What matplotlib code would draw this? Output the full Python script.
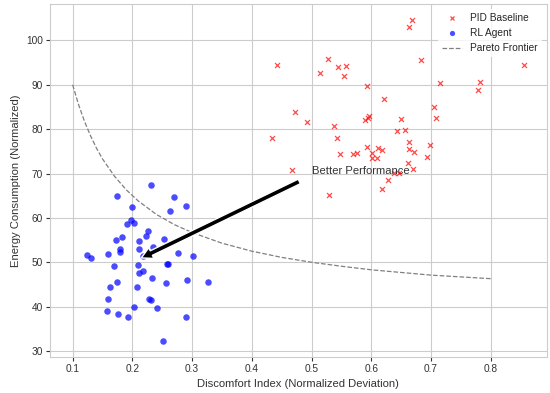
import numpy as np
import matplotlib
matplotlib.use('Agg')
import matplotlib.pyplot as plt
import seaborn as sns

# PID baseline results (discomfort, energy)
pid_discomfort = [0.669, 0.664, 0.527, 0.684, 0.544, 0.557, 0.856, 0.514, 0.554, 0.715,
                  0.782, 0.778, 0.593, 0.621, 0.705, 0.472, 0.708, 0.597, 0.595, 0.590,
                  0.492, 0.650, 0.537, 0.643, 0.656, 0.543, 0.663, 0.698, 0.593, 0.663,
                  0.612, 0.618, 0.548, 0.569, 0.576, 0.671, 0.602, 0.602, 0.610, 0.694,
                  0.661, 0.670, 0.467, 0.638, 0.646, 0.628, 0.618, 0.530, 0.443, 0.433]
pid_energy = [104.6, 103.0, 95.8, 95.6, 94.1, 94.2, 94.5, 92.6, 91.9, 90.4,
              90.7, 88.9, 89.8, 86.8, 85.0, 83.8, 82.4, 82.9, 82.6, 82.0,
              81.7, 82.3, 80.8, 79.5, 79.7, 78.1, 77.2, 76.4, 75.9, 75.6,
              75.7, 75.3, 74.5, 74.4, 74.7, 74.8, 74.6, 73.6, 73.6, 73.8,
              72.3, 71.1, 70.8, 70.1, 70.1, 68.6, 66.5, 65.1, 94.5, 77.9]

# RL agent results
rl_discomfort = [0.231, 0.174, 0.269, 0.199, 0.289, 0.263, 0.198, 0.203, 0.191, 0.226,
                 0.223, 0.182, 0.172, 0.211, 0.253, 0.180, 0.180, 0.211, 0.234, 0.124,
                 0.131, 0.159, 0.217, 0.277, 0.301, 0.169, 0.209, 0.258, 0.259, 0.218,
                 0.211, 0.233, 0.174, 0.256, 0.292, 0.326, 0.163, 0.207, 0.228, 0.232,
                 0.160, 0.202, 0.241, 0.158, 0.176, 0.192, 0.289, 0.252]
rl_energy = [67.3, 65.0, 64.7, 62.5, 62.6, 61.5, 59.5, 58.9, 58.6, 57.0,
             55.9, 55.6, 55.1, 54.9, 55.2, 52.9, 52.3, 53.0, 53.5, 51.7,
             51.0, 51.9, 51.5, 52.0, 51.5, 49.2, 49.3, 49.5, 49.6, 48.0,
             47.5, 46.4, 45.5, 45.4, 45.9, 45.5, 44.4, 44.4, 41.8, 41.4,
             41.7, 39.9, 39.6, 39.0, 38.3, 37.7, 37.7, 32.3]

# Pareto frontier
front_x = [0.10, 0.11, 0.12, 0.13, 0.14, 0.15, 0.17, 0.19, 0.21, 0.24, 0.27,
           0.30, 0.35, 0.40, 0.45, 0.50, 0.55, 0.60, 0.65, 0.70, 0.75, 0.80]
front_y = [90.0, 85.5, 81.7, 78.5, 75.7, 73.3, 69.4, 66.3, 63.8, 60.8, 58.5,
           56.7, 54.3, 52.5, 51.1, 50.0, 49.1, 48.3, 47.7, 47.1, 46.7, 46.3]

sns.set_theme(style="whitegrid")
plt.rcParams['font.family'] = ['Liberation Sans', 'DejaVu Sans']
plt.rcParams['xtick.bottom'] = True
plt.rcParams['ytick.left'] = True
plt.rcParams['xtick.major.size'] = 3
plt.rcParams['ytick.major.size'] = 3
plt.rcParams['xtick.major.width'] = 0.8
plt.rcParams['ytick.major.width'] = 0.8

fig, ax = plt.subplots(figsize=(5.5, 3.93), dpi=100)
fig.subplots_adjust(left=0.091, right=0.994, top=0.99, bottom=0.092)

ax.scatter(pid_discomfort, pid_energy, marker='x', color='red', alpha=0.7, s=13,
           linewidths=0.9, label='PID Baseline')
ax.scatter(rl_discomfort, rl_energy, marker='o', color='blue', alpha=0.7, s=22,
           linewidths=0, label='RL Agent')
ax.plot(front_x, front_y, '--', color='gray', linewidth=0.9, label='Pareto Frontier')

ax.annotate('Better Performance', xy=(0.2, 50), xytext=(0.5, 70), fontsize=8.1,
            color='0.2',
            arrowprops=dict(facecolor='black', shrink=0.05, width=3.6, headwidth=8.5,
                            headlength=8))

ax.set_xlabel('Discomfort Index (Normalized Deviation)', fontsize=8.1, color='0.2')
ax.set_ylabel('Energy Consumption (Normalized)', fontsize=8.1, color='0.2')
ax.tick_params(labelsize=7.3, pad=2, colors='0.2')
for s in ax.spines.values():
    s.set_linewidth(0.8)
ax.grid(linewidth=0.8)
leg = ax.legend(fontsize=7.3, framealpha=0.8, edgecolor='none', markerscale=0.8)

plt.savefig('out.png', dpi=100)
